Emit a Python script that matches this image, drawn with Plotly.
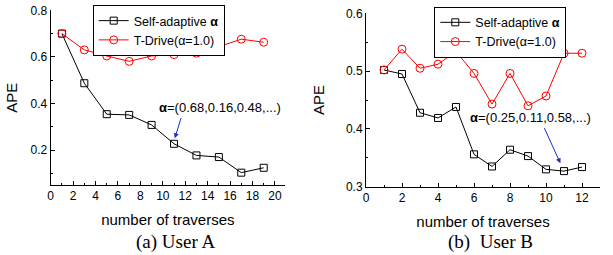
import plotly.graph_objects as go

# ---- data ----
traverses_a = [1, 3, 5, 7, 9, 11, 13, 15, 17, 19]
self_adaptive_a = [0.700, 0.487, 0.354, 0.351, 0.308, 0.227, 0.177, 0.170, 0.103, 0.124]
tdrive_a = [0.700, 0.630, 0.604, 0.581, 0.604, 0.610, 0.616, 0.644, 0.676, 0.663]

traverses_b = [1, 2, 3, 4, 5, 6, 7, 8, 9, 10, 11, 12]
self_adaptive_b = [0.502, 0.495, 0.428, 0.419, 0.438, 0.356, 0.335, 0.364, 0.353, 0.330, 0.327, 0.334]
tdrive_b = [0.502, 0.538, 0.505, 0.512, 0.534, 0.496, 0.443, 0.496, 0.440, 0.457, 0.531, 0.531]

name_self = "Self-adaptive <b>α</b>"
name_tdrive = "T-Drive(α=1.0)"
note_a = "<b>α</b>=(0.68,0.16,0.48,...)"
note_b = "<b>α</b>=(0.25,0.11,0.58,...)"
caption_a = "(a) User A"
caption_b = "(b)  User B"
x_title = "number of traverses"
y_title = "APE"

W, H = 613, 255
SANS = "Arial, Liberation Sans, sans-serif"
SERIF = "Times New Roman, Liberation Serif, serif"
BLACK = "#000000"
RED = "#ff0000"
BLUE = "#1a2fc4"

fig = go.Figure()

def add_pair(xs, s1, s2, xa, ya, legend):
    fig.add_trace(go.Scatter(x=xs, y=s1, name=name_self, mode="lines+markers",
                             line=dict(color=BLACK, width=1),
                             marker=dict(symbol="square-open", size=7, color=BLACK, line=dict(width=1)),
                             xaxis=xa, yaxis=ya, legend=legend, cliponaxis=False))
    fig.add_trace(go.Scatter(x=xs, y=s2, name=name_tdrive, mode="lines+markers",
                             line=dict(color=RED, width=1),
                             marker=dict(symbol="circle-open", size=8, color=RED, line=dict(width=1)),
                             xaxis=xa, yaxis=ya, legend=legend, cliponaxis=False))

add_pair(traverses_a, self_adaptive_a, tdrive_a, "x", "y", "legend")
add_pair(traverses_b, self_adaptive_b, tdrive_b, "x2", "y2", "legend2")

def px_x(p):
    return p / W

def px_y(p):
    return 1 - p / H

axis_common = dict(showline=True, linecolor=BLACK, linewidth=1, ticks="inside", ticklen=4,
                   tickwidth=1, tickcolor=BLACK, showgrid=False, zeroline=False, automargin=False,
                   tickfont=dict(family=SANS, size=12, color=BLACK), mirror=False)

legend_common = dict(xanchor="left", yanchor="top", bgcolor="white",
                     bordercolor=BLACK, borderwidth=1, font=dict(size=12.5), itemwidth=30,
                     tracegroupgap=0)

fig.update_layout(
    template="none",
    width=W, height=H, margin=dict(l=0, r=0, t=0, b=0, autoexpand=False),
    paper_bgcolor="white", plot_bgcolor="white",
    font=dict(family=SANS, size=13, color=BLACK),
    xaxis=dict(domain=[px_x(50.7), px_x(285)], range=[0, 20.9], tickvals=list(range(0, 21, 2)),
               minor=dict(ticks="inside", ticklen=2, dtick=1, tick0=0, tickcolor=BLACK),
               title=dict(text=x_title, font=dict(size=15), standoff=12), anchor="y", **axis_common),
    yaxis=dict(domain=[px_y(185), px_y(10.3)], range=[0.05, 0.8001], tickvals=[0.2, 0.4, 0.6, 0.8],
               tickformat=".1f",
               minor=dict(ticks="inside", ticklen=2, dtick=0.1, tick0=0, tickcolor=BLACK),
               title=dict(text=y_title, font=dict(size=15), standoff=9), anchor="x", **axis_common),
    xaxis2=dict(domain=[px_x(366), px_x(600)], range=[0, 13], tickvals=list(range(0, 13, 2)),
                minor=dict(ticks="inside", ticklen=2, dtick=1, tick0=0, tickcolor=BLACK),
                title=dict(text=x_title, font=dict(size=15), standoff=12), anchor="y2", **axis_common),
    yaxis2=dict(domain=[px_y(186.7), px_y(13.3)], range=[0.3, 0.6001], tickvals=[0.3, 0.4, 0.5, 0.6],
                tickformat=".1f",
                minor=dict(ticks="inside", ticklen=2, dtick=0.05, tick0=0, tickcolor=BLACK),
                title=dict(text=y_title, font=dict(size=15), standoff=17), anchor="x2", **axis_common),
    legend=dict(x=px_x(92.7), y=px_y(5), **legend_common),
    legend2=dict(x=px_x(434.3), y=px_y(6.7), **legend_common),
    showlegend=True,
)

annotations = [
    # value notes
    dict(x=9.44, y=0.383, xref="x", yref="y", text=note_a, showarrow=False,
         xanchor="left", yanchor="middle", font=dict(size=13)),
    dict(x=5.66, y=0.419, xref="x2", yref="y2", text=note_b, showarrow=False,
         xanchor="left", yanchor="middle", font=dict(size=13)),
    # arrows
    dict(x=11.07, y=0.251, ax=11.67, ay=0.344, xref="x", yref="y", axref="x", ayref="y",
         text="", showarrow=True, arrowhead=2, arrowsize=1, arrowwidth=1, arrowcolor=BLUE),
    dict(x=10.80, y=0.3405, ax=9.87, ay=0.404, xref="x2", yref="y2", axref="x2", ayref="y2",
         text="", showarrow=True, arrowhead=2, arrowsize=1, arrowwidth=1, arrowcolor=BLUE),
    # captions
    dict(x=px_x(175), y=px_y(241.7), xref="paper", yref="paper", text=caption_a, showarrow=False,
         xanchor="center", yanchor="middle", font=dict(family=SERIF, size=19)),
    dict(x=px_x(490), y=px_y(241.7), xref="paper", yref="paper", text=caption_b, showarrow=False,
         xanchor="center", yanchor="middle", font=dict(family=SERIF, size=19)),
]
fig.update_layout(annotations=annotations)

fig.write_html("out.html", config={"displayModeBar": False},
               post_script="document.body.style.margin='0';document.body.style.overflow='hidden';")
